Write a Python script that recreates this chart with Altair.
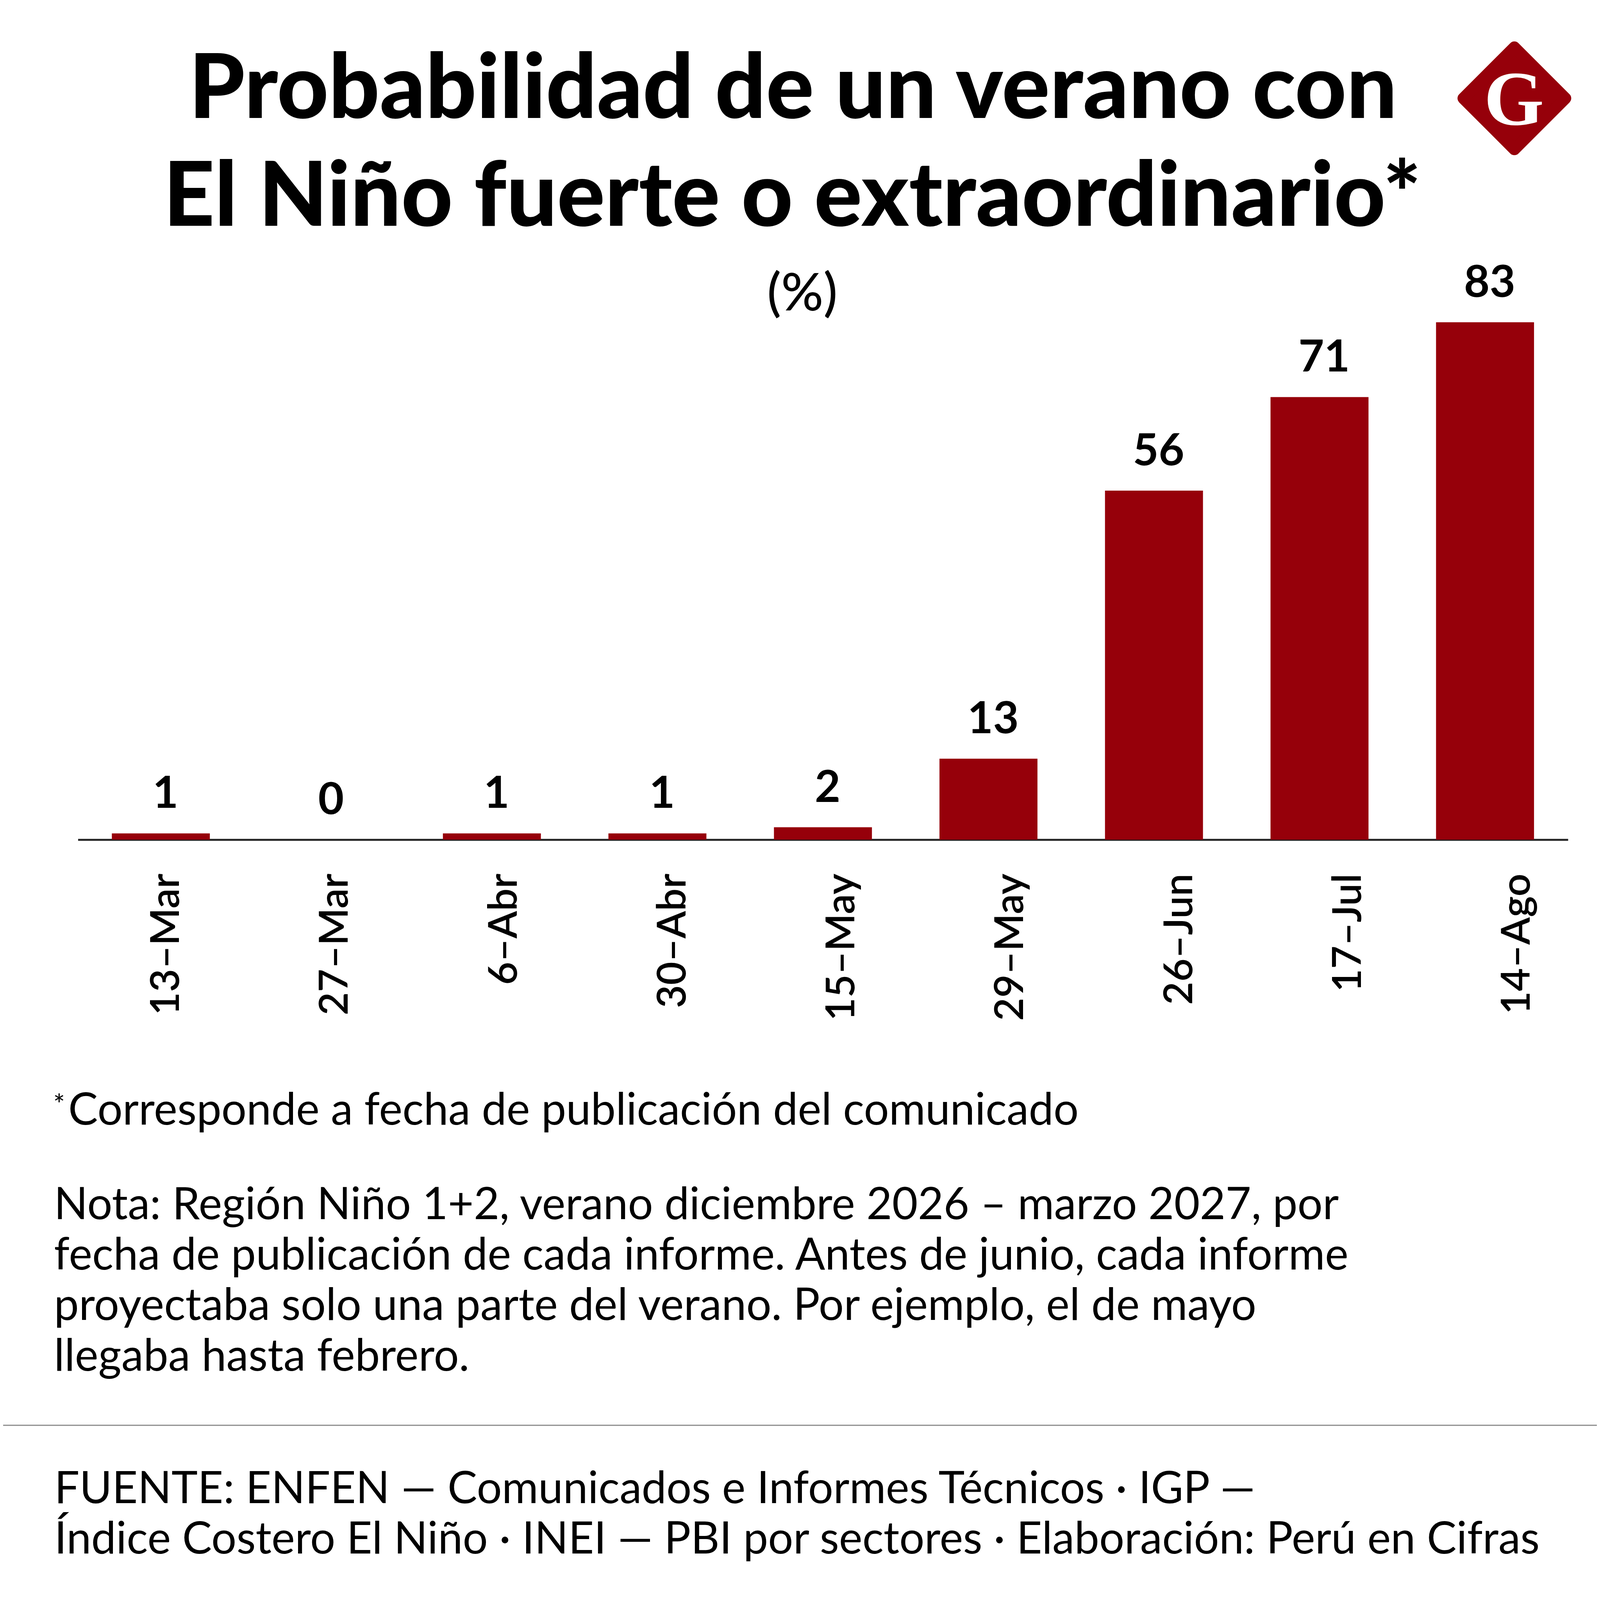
import altair as alt
import pandas as pd

# ---- data ----
fechas = ["13–Mar", "27–Mar", "6–Abr", "30–Abr", "15–May", "29–May", "26–Jun", "17–Jul", "14–Ago"]
valores = [1, 0, 1, 1, 2, 13, 56, 71, 83]

titulo_1 = "Probabilidad de un verano con"
titulo_2 = "El Niño fuerte o extraordinario*"
unidad = "(%)"
nota_asterisco = "Corresponde a fecha de publicación del comunicado"
nota_lineas = [
    "Nota: Región Niño 1+2, verano diciembre 2026 – marzo 2027, por",
    "fecha de publicación de cada informe. Antes de junio, cada informe",
    "proyectaba solo una parte del verano. Por ejemplo, el de mayo",
    "llegaba hasta febrero.",
]
fuente_lineas = [
    "FUENTE: ENFEN — Comunicados e Informes Técnicos · IGP —",
    "Índice Costero El Niño · INEI — PBI por sectores · Elaboración: Perú en Cifras",
]

ROJO = "#96000A"
FONT = "Lato"
W, H = 3865, 1342

df = pd.DataFrame({"fecha": fechas, "valor": valores})
one = pd.DataFrame({"k": [0]})

base = alt.Chart(df)

x_bar = alt.X(
    "fecha:N",
    sort=fechas,
    scale=alt.Scale(paddingInner=0.408, paddingOuter=0.205),
    axis=alt.Axis(labels=False, ticks=False, domain=True, domainColor="#222222",
                  domainWidth=5, title=None, grid=False),
)
y_bar = alt.Y("valor:Q", scale=alt.Scale(domain=[0, 83], nice=False, zero=True), axis=None)

bars = base.mark_bar(color=ROJO).encode(x=x_bar, y=y_bar)

value_labels = base.mark_text(
    font=FONT, fontSize=115, fontWeight="bold", color="#000000",
    baseline="alphabetic", align="center", dy=-66, dx=12,
).encode(x=x_bar, y=y_bar, text="valor:Q")

bar_layer = alt.layer(bars, value_labels)

axis_labels = base.mark_text(
    font=FONT, fontSize=104, fontWeight=600, color="#000000",
    angle=270, align="right", baseline="middle",
).encode(
    x=alt.X("fecha:N", sort=fechas,
            scale=alt.Scale(type="point", padding=0.412, align=0.64), axis=None),
    y=alt.value(H + 88),
    text="fecha:N",
)


def txt(text, x, y, size, weight="normal", align="left", color="#000000",
        font=FONT, baseline="alphabetic", line_height=None):
    kw = dict(font=font, fontSize=size, fontWeight=weight, align=align,
              baseline=baseline, color=color)
    if line_height is not None:
        kw["lineHeight"] = line_height
    return alt.Chart(one).mark_text(**kw).encode(
        x=alt.value(x), y=alt.value(y), text=alt.value(text)
    )


title1 = txt(titulo_1, 1855, -530, 232, weight=900, align="center")
title2 = txt(titulo_2, 1853, -250, 232, weight=900, align="center")
pct = txt(unidad, 1879, -30, 136, weight=500, align="center")

logo = alt.Chart(one).mark_point(
    shape="diamond", filled=True, size=265 * 265, color=ROJO, fill=ROJO,
    stroke=ROJO, strokeWidth=30, strokeJoin="round", opacity=1,
).encode(x=alt.value(3726), y=alt.value(-581))
logo_g = txt("G", 3725, -513, 200, weight="bold", align="center",
             color="#FFFFFF", font="Liberation Serif")

foot_ast = txt("*", -64, 2055, 72, align="left")
foot_1 = txt(nota_asterisco, -25, 2081, 115, align="left")
nota = txt(nota_lineas, -62, 2326, 115, align="left", line_height=131)
sep = alt.Chart(one).mark_rule(color="#8c8c8c", strokeWidth=3).encode(
    x=alt.value(-202), x2=alt.value(3948), y=alt.value(2861)
)
fuente = txt(fuente_lineas, -61, 3063, 115, align="left", line_height=131)

chart = alt.layer(
    bar_layer, axis_labels, title1, title2, pct, logo, logo_g,
    foot_ast, foot_1, nota, sep, fuente,
).resolve_scale(x="independent").properties(
    width=W, height=H,
    padding={"left": 194, "top": 800, "right": 75, "bottom": 2077},
    autosize=alt.AutoSizeParams(type="none"),
    background="#FFFFFF",
).configure_view(stroke=None)

chart.save("out.html", embed_options={"renderer": "svg", "actions": False})
